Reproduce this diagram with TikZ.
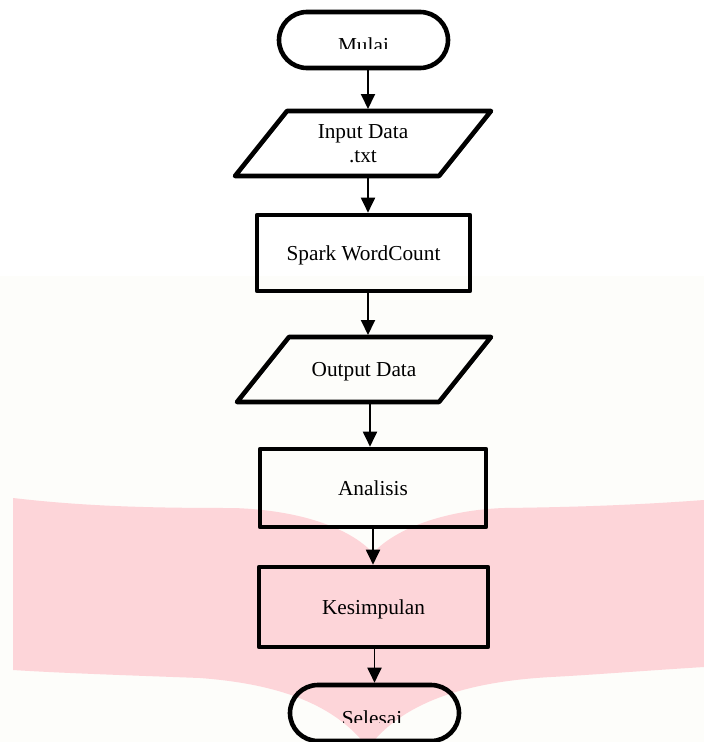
\documentclass[tikz,border=0pt]{standalone}
\usepackage{fontspec}
\setmainfont{Liberation Serif}
\usetikzlibrary{arrows.meta}
\definecolor{bgcream}{RGB}{253,253,250}
\definecolor{wmpink}{RGB}{253,213,217}
\begin{document}
\begin{tikzpicture}[x=1pt,y=-1pt,
  lbl/.style={font=\fontsize{21.3}{24.5}\selectfont},
  txt/.style={lbl, text height=14pt, text depth=0pt},
  proc/.style={draw=black, line width=4.6pt, line join=round, rectangle, inner sep=0pt, txt},
  term/.style={draw=black, line width=4.6pt, rounded corners=28pt, rectangle, minimum width=169pt, minimum height=56pt, inner sep=0pt},
  io/.style={rectangle, inner sep=0pt, outer sep=0pt, lbl},
  iobox/.style={draw=black, line width=4.6pt, line join=round},
  arr/.style={draw=black, line width=1.9pt, -{Triangle[length=15pt,width=14pt]}}]
\useasboundingbox (0,0) rectangle (704,742);
% background
\fill[white] (0,0) rectangle (704,276);
\fill[bgcream] (0,276) rectangle (704,742);
% watermark
\fill[wmpink] (13,498) .. controls (90,507) and (160,508) .. (233,508)
  .. controls (300,510) and (350,528) .. (373,553)
  .. controls (396,528) and (446,510) .. (504,508)
  .. controls (590,507) and (650,504) .. (704,500)
  -- (704,667)
  .. controls (640,671) and (590,675) .. (551,677)
  .. controls (460,682) and (400,705) .. (368,748)
  .. controls (336,705) and (280,684) .. (200,678)
  .. controls (120,675) and (60,673) .. (13,670) -- cycle;
% nodes
\node[term] (start) at (363.5,40) {};
\node[io, minimum width=260pt, minimum height=69pt, align=center] (in) at (363,143.5) {Input Data\\.txt};
\node[proc, minimum width=213pt, minimum height=76pt] (spark) at (363.5,253) {Spark WordCount};
\node[io, txt, minimum width=258pt, minimum height=69pt] (out) at (364,369.5) {Output Data};
\node[proc, minimum width=226pt, minimum height=78pt] (ana) at (373,488) {Analisis};
\node[proc, minimum width=229pt, minimum height=80pt] (kes) at (373.5,607) {Kesimpulan};
\node[term] (sel) at (374.5,713) {};
% parallelograms
\draw[iobox] ([xshift=54pt,yshift=-2pt]in.north west) -- ([xshift=-2pt,yshift=-2pt]in.north east)
  -- ([xshift=-54pt,yshift=2pt]in.south east) -- ([xshift=2pt,yshift=2pt]in.south west) -- cycle;
\draw[iobox] ([xshift=54pt,yshift=-2pt]out.north west) -- ([xshift=-2pt,yshift=-2pt]out.north east)
  -- ([xshift=-54pt,yshift=2pt]out.south east) -- ([xshift=2pt,yshift=2pt]out.south west) -- cycle;
% clipped terminator texts
\begin{scope}
  \clip (0,0) rectangle (704,48.5);
  \node[txt, anchor=base] (mulaitxt) at (363.5,52.5) {Mulai};
\end{scope}
\begin{scope}
  \clip (0,0) rectangle (704,722.5);
  \node[txt, anchor=base] (selesaitxt) at (372,725) {Selesai};
\end{scope}
% connectors
\coordinate (a1) at (368,0);
\coordinate (a2) at (368,0);
\coordinate (a3) at (368,0);
\coordinate (a4) at (370,0);
\coordinate (a5) at (373,0);
\coordinate (a6) at (374.5,0);
\draw[arr] (start.south -| a1) -- (in.north -| a1);
\draw[arr] (in.south -| a2) -- (spark.north -| a2);
\draw[arr] (spark.south -| a3) -- (out.north -| a3);
\draw[arr] (out.south -| a4) -- (ana.north -| a4);
\draw[arr] (ana.south -| a5) -- (kes.north -| a5);
\draw[arr] (kes.south -| a6) -- (sel.north -| a6);
\end{tikzpicture}
\end{document}
